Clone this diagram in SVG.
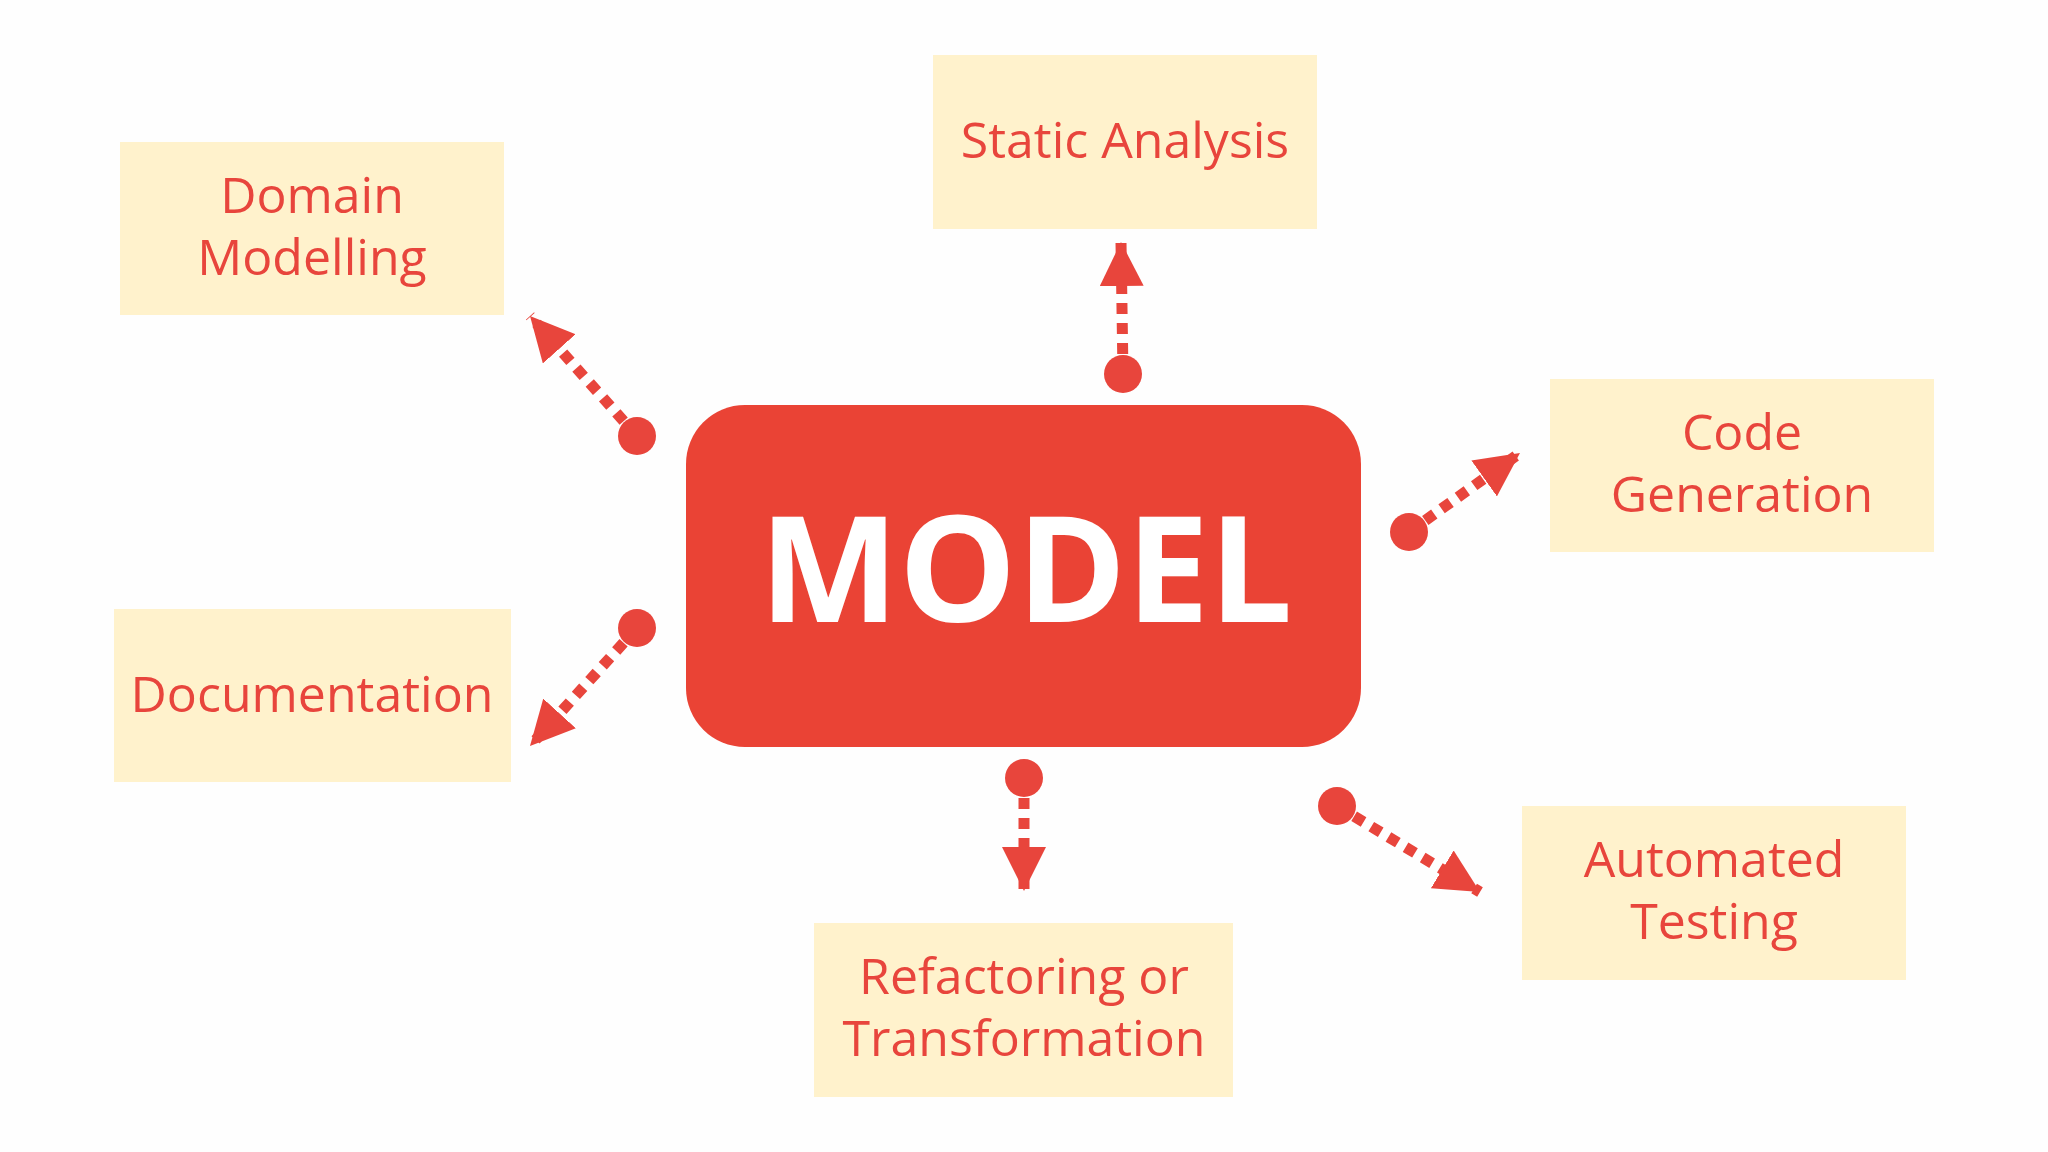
<svg xmlns="http://www.w3.org/2000/svg" width="2048" height="1152" viewBox="0 0 2048 1152">
<style>
.box{fill:#fff2cc}
.lbl{font-family:"Open Sans","Noto Sans",sans-serif;font-size:50px;fill:#e8453c;text-anchor:middle}
.con{stroke:#e8453c;stroke-width:11;stroke-dasharray:11 9;fill:none}
.dot{fill:#e8453c}
</style>
<defs>
<marker id="ah" markerUnits="userSpaceOnUse" markerWidth="44" markerHeight="44" viewBox="0 0 40 40" refX="40" refY="20" orient="auto">
<path d="M0,0 L40,20 L0,40 Z" fill="#e8453c"/>
</marker>
</defs>
<rect width="2048" height="1152" fill="#fefefe"/>
<g id="model">
<rect x="686" y="405" width="675" height="342" rx="59" fill="#ea4335"/>
<text x="1026" y="622" font-family="'Open Sans','Noto Sans',sans-serif" font-size="148" font-weight="bold" fill="#fff" text-anchor="middle">MODEL</text>
</g>
<g id="static-analysis"><rect class="box" x="933" y="55" width="384" height="174"/><text class="lbl" x="1125" y="158">Static Analysis</text></g>
<g id="domain-modelling"><rect class="box" x="120" y="142" width="384" height="173"/><text class="lbl" x="312" y="213">Domain</text><text class="lbl" x="312" y="275">Modelling</text></g>
<g id="code-generation"><rect class="box" x="1550" y="379" width="384" height="173"/><text class="lbl" x="1742" y="450">Code</text><text class="lbl" x="1742" y="512">Generation</text></g>
<g id="documentation"><rect class="box" x="114" y="609" width="397" height="173"/><text class="lbl" x="312" y="712">Documentation</text></g>
<g id="automated-testing"><rect class="box" x="1522" y="806" width="384" height="174"/><text class="lbl" x="1714" y="877">Automated</text><text class="lbl" x="1714" y="939">Testing</text></g>
<g id="refactoring"><rect class="box" x="814" y="923" width="419" height="174"/><text class="lbl" x="1024" y="994">Refactoring or</text><text class="lbl" x="1024" y="1056">Transformation</text></g>
<g id="connectors">
<line class="con" x1="1123" y1="374" x2="1121" y2="242" marker-end="url(#ah)"/><circle class="dot" cx="1123" cy="374" r="19"/>
<line class="con" x1="637" y1="436" x2="530" y2="316" marker-end="url(#ah)"/><circle class="dot" cx="637" cy="436" r="19"/>
<line class="con" x1="1409" y1="532" x2="1520" y2="453" marker-end="url(#ah)"/><circle class="dot" cx="1409" cy="532" r="19"/>
<line class="con" x1="637" y1="628" x2="530" y2="746" marker-end="url(#ah)"/><circle class="dot" cx="637" cy="628" r="19"/>
<line class="con" x1="1024" y1="778" x2="1024" y2="891" marker-end="url(#ah)"/><circle class="dot" cx="1024" cy="778" r="19"/>
<line class="con" x1="1337" y1="806" x2="1480" y2="892" marker-end="url(#ah)"/><circle class="dot" cx="1337" cy="806" r="19"/>
</g>
</svg>
